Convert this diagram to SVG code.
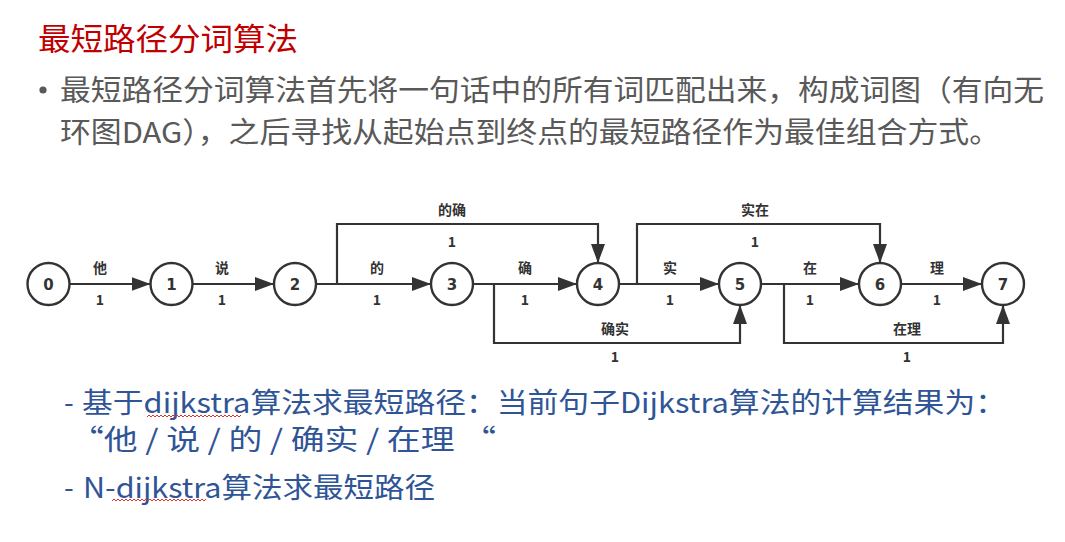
<svg xmlns="http://www.w3.org/2000/svg" width="1065" height="542" viewBox="0 0 1065 542">
  <style>
    .title { font-family: "Noto Sans CJK SC", "Liberation Sans", sans-serif; font-size: 31px; fill: #C00000; }
    .body { font-family: "Noto Sans CJK SC", "Liberation Sans", sans-serif; font-size: 29px; fill: #595959; }
    .sub { font-family: "Noto Sans CJK SC", "Liberation Sans", sans-serif; font-size: 28px; fill: #2F5597; }
    .node circle { fill: #ffffff; stroke: #333333; stroke-width: 2.4; }
    .node text { font-family: "DejaVu Sans", "Liberation Sans", sans-serif; font-size: 15px; font-weight: bold; fill: #333333; text-anchor: middle; }
    .edge { fill: none; stroke: #333333; stroke-width: 2.2; }
    .lbl { font-family: "Noto Sans CJK SC", "DejaVu Sans", sans-serif; font-size: 14px; font-weight: bold; fill: #333333; text-anchor: middle; }
    .squig { fill: none; stroke: #E03030; stroke-width: 1; }
  </style>
  <defs>
    <marker id="arrow" markerUnits="userSpaceOnUse" markerWidth="20" markerHeight="14" refX="19" refY="7" orient="auto">
      <path d="M0,0 L19,7 L0,14 z" fill="#333333"/>
    </marker>
  </defs>

  <rect width="1065" height="542" fill="#ffffff"/>

  <!-- heading and description -->
  <text class="title" x="38" y="50" textLength="260" lengthAdjust="spacingAndGlyphs">最短路径分词算法</text>
  <circle cx="43" cy="90" r="3.6" fill="#595959"/>
  <text class="body" x="60" y="101" textLength="984" lengthAdjust="spacingAndGlyphs">最短路径分词算法首先将一句话中的所有词匹配出来，构成词图（有向无</text>
  <text class="body" x="60" y="143" textLength="940" lengthAdjust="spacingAndGlyphs">环图DAG），之后寻找从起始点到终点的最短路径作为最佳组合方式。</text>

  <!-- connectors -->
  <g id="connectors">
    <line class="edge" x1="69.5" y1="284" x2="150.5" y2="284" marker-end="url(#arrow)"/>
    <line class="edge" x1="192.5" y1="284" x2="274" y2="284" marker-end="url(#arrow)"/>
    <line class="edge" x1="316" y1="284" x2="431" y2="284" marker-end="url(#arrow)"/>
    <line class="edge" x1="473" y1="284" x2="577" y2="284" marker-end="url(#arrow)"/>
    <line class="edge" x1="619" y1="284" x2="719" y2="284" marker-end="url(#arrow)"/>
    <line class="edge" x1="761" y1="284" x2="859" y2="284" marker-end="url(#arrow)"/>
    <line class="edge" x1="901" y1="284" x2="982" y2="284" marker-end="url(#arrow)"/>
    <path class="edge" d="M337,284 V224 H598 V263" marker-end="url(#arrow)"/>
    <path class="edge" d="M637,284 V224 H880 V263" marker-end="url(#arrow)"/>
    <path class="edge" d="M494,284 V343 H740 V305" marker-end="url(#arrow)"/>
    <path class="edge" d="M784,284 V343 H1003 V305" marker-end="url(#arrow)"/>

    <text class="lbl" x="100" y="273">他</text><text class="lbl" x="100" y="305">1</text>
    <text class="lbl" x="222" y="273">说</text><text class="lbl" x="222" y="305">1</text>
    <text class="lbl" x="377" y="273">的</text><text class="lbl" x="377" y="305">1</text>
    <text class="lbl" x="525" y="273">确</text><text class="lbl" x="525" y="305">1</text>
    <text class="lbl" x="670" y="273">实</text><text class="lbl" x="670" y="305">1</text>
    <text class="lbl" x="810" y="273">在</text><text class="lbl" x="810" y="305">1</text>
    <text class="lbl" x="937" y="273">理</text><text class="lbl" x="937" y="305">1</text>
    <text class="lbl" x="452" y="215">的确</text><text class="lbl" x="452" y="247">1</text>
    <text class="lbl" x="755" y="215">实在</text><text class="lbl" x="755" y="247">1</text>
    <text class="lbl" x="615" y="334">确实</text><text class="lbl" x="615" y="362">1</text>
    <text class="lbl" x="907" y="334">在理</text><text class="lbl" x="907" y="362">1</text>
  </g>

  <!-- nodes -->
  <g id="node0" class="node"><circle cx="48.5" cy="284" r="21"/><text x="48.5" y="289.5">0</text></g>
  <g id="node1" class="node"><circle cx="171.5" cy="284" r="21"/><text x="171.5" y="289.5">1</text></g>
  <g id="node2" class="node"><circle cx="295" cy="284" r="21"/><text x="295" y="289.5">2</text></g>
  <g id="node3" class="node"><circle cx="452" cy="284" r="21"/><text x="452" y="289.5">3</text></g>
  <g id="node4" class="node"><circle cx="598" cy="284" r="21"/><text x="598" y="289.5">4</text></g>
  <g id="node5" class="node"><circle cx="740" cy="284" r="21"/><text x="740" y="289.5">5</text></g>
  <g id="node6" class="node"><circle cx="880" cy="284" r="21"/><text x="880" y="289.5">6</text></g>
  <g id="node7" class="node"><circle cx="1003" cy="284" r="21"/><text x="1003" y="289.5">7</text></g>

  <!-- notes below the graph -->
  <text class="sub" x="64" y="413">-</text>
  <text class="sub" x="82" y="413" textLength="924" lengthAdjust="spacingAndGlyphs">基于dijkstra算法求最短路径：当前句子Dijkstra算法的计算结果为：</text>
  <text class="sub" x="70" y="450" textLength="426" lengthAdjust="spacingAndGlyphs">“他 / 说 / 的 / 确实 / 在理 “</text>
  <text class="sub" x="64" y="498">-</text>
  <text class="sub" x="83" y="498" textLength="352" lengthAdjust="spacingAndGlyphs">N-dijkstra算法求最短路径</text>

  <!-- spell-check squiggles -->
  <path class="squig" d="M147,417 l2,-2 l2,2 l2,-2 l2,2 l2,-2 l2,2 l2,-2 l2,2 l2,-2 l2,2 l2,-2 l2,2 l2,-2 l2,2 l2,-2 l2,2 l2,-2 l2,2 l2,-2 l2,2 l2,-2 l2,2 l2,-2 l2,2 l2,-2 l2,2 l2,-2 l2,2 l2,-2 l2,2 l2,-2 l2,2 l2,-2 l2,2 l2,-2 l2,2 l2,-2 l2,2 l2,-2 l2,2 l2,-2 l2,2 l2,-2 l2,2 l2,-2 l2,2 l2,-2"/>
  <path class="squig" d="M112,501 l2,-2 l2,2 l2,-2 l2,2 l2,-2 l2,2 l2,-2 l2,2 l2,-2 l2,2 l2,-2 l2,2 l2,-2 l2,2 l2,-2 l2,2 l2,-2 l2,2 l2,-2 l2,2 l2,-2 l2,2 l2,-2 l2,2 l2,-2 l2,2 l2,-2 l2,2 l2,-2 l2,2 l2,-2 l2,2 l2,-2 l2,2 l2,-2 l2,2 l2,-2 l2,2 l2,-2 l2,2 l2,-2 l2,2 l2,-2 l2,2 l2,-2 l2,2 l2,-2"/>
</svg>
